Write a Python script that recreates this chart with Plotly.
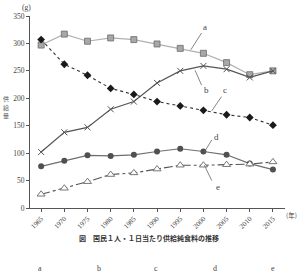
import plotly.graph_objects as go

years = [1965, 1970, 1975, 1980, 1985, 1990, 1995, 2000, 2005, 2010, 2015]
a_vals = [297, 317, 304, 310, 307, 299, 291, 282, 265, 243, 250]
b_vals = [102, 138, 147, 180, 194, 228, 250, 259, 253, 238, 250]
c_vals = [307, 262, 242, 218, 207, 194, 186, 178, 170, 165, 151]
d_vals = [76, 86, 96, 95, 97, 103, 108, 103, 97, 81, 70]
e_vals = [25, 36, 48, 61, 64, 71, 78, 78, 79, 80, 84]
tick_labels = [str(y) for y in years]
y_ticks = [0, 50, 100, 150, 200, 250, 300, 350]
choice_labels = ["a", "b", "c", "d", "e"]
y_title_chars = ["供", "給", "量"]

SERIF = "Liberation Serif, DejaVu Serif, serif"
JP = "Noto Sans CJK JP, sans-serif"

fig = go.Figure()
fig.add_trace(go.Scatter(x=years, y=a_vals, mode="lines+markers",
                         line=dict(color="#b0b0b0", width=1.2),
                         marker=dict(symbol="square", size=6, color="#a8a8a8",
                                     line=dict(color="#6a6a6a", width=0.8))))
fig.add_trace(go.Scatter(x=years, y=b_vals, mode="lines+markers",
                         line=dict(color="#555555", width=1.2),
                         marker=dict(symbol="x-thin", size=6, color="#555555",
                                     line=dict(color="#555555", width=1))))
fig.add_trace(go.Scatter(x=years, y=c_vals, mode="lines+markers",
                         line=dict(color="#333333", width=1.1, dash="dot"),
                         marker=dict(symbol="diamond", size=6, color="#1a1a1a")))
fig.add_trace(go.Scatter(x=years, y=d_vals, mode="lines+markers",
                         line=dict(color="#6e6e6e", width=1.2),
                         marker=dict(symbol="circle", size=6, color="#505050")))
fig.add_trace(go.Scatter(x=years, y=e_vals, mode="lines+markers",
                         line=dict(color="#555555", width=1.1, dash="dashdot"),
                         marker=dict(symbol="triangle-up", size=7, color="white",
                                     line=dict(color="#666666", width=0.9))))

# leader lines for series labels (data coords)
leaders = [
    ((1997.3, 288.6), (1999.6, 319)),   # a
    ((1998.2, 251), (1999.6, 224)),     # b
    ((2001.8, 177), (2003.9, 203)),     # c
    ((2000.2, 102), (2001.8, 124)),     # d
    ((2000.2, 78), (2001.8, 50)),       # e
]
label_pos = [(2000.4, 330), (2000.6, 215), (2004.6, 216), (2002.8, 130), (2003.2, 39)]
for (p0, p1), (lx, ly), t in zip(leaders, label_pos, choice_labels):
    fig.add_shape(type="line", x0=p0[0], y0=p0[1], x1=p1[0], y1=p1[1],
                  xref="x", yref="y", line=dict(color="#666666", width=0.8))
    fig.add_annotation(x=lx, y=ly, xref="x", yref="y", text=t, showarrow=False,
                       xanchor="center", yanchor="middle",
                       font=dict(family=SERIF, size=9, color="#444444"))

fig.update_layout(
    width=300, height=278,
    margin=dict(l=30, r=15, t=16, b=70),
    paper_bgcolor="white", plot_bgcolor="white",
    showlegend=False,
    xaxis=dict(range=[1962.6, 2017.6], tickmode="array", tickvals=years,
               ticktext=tick_labels, tickangle=-45, showgrid=False, zeroline=False,
               showline=True, linecolor="#555555", linewidth=1,
               ticks="outside", ticklen=3, tickcolor="#555555",
               tickfont=dict(family=SERIF, size=7, color="#444444")),
    yaxis=dict(range=[0, 350], tickmode="array", tickvals=y_ticks,
               showgrid=False, zeroline=False,
               showline=True, linecolor="#555555", linewidth=1,
               ticks="outside", ticklen=3, tickcolor="#555555",
               tickfont=dict(family=SERIF, size=7.5, color="#444444")),
)

def px_x(px):
    return (px - 30) / 255

def px_y(py):
    return (208 - py) / 192

fig.add_annotation(xref="paper", yref="paper", x=px_x(26), y=px_y(7),
                   xanchor="center", yanchor="middle",
                   text="(g)", showarrow=False,
                   font=dict(family=SERIF, size=7.5, color="#444444"))
for i, ch in enumerate(y_title_chars):
    fig.add_annotation(xref="paper", yref="paper", x=px_x(6), y=px_y(98 + 9 * i),
                       xanchor="center", yanchor="middle", borderpad=0,
                       text=ch, showarrow=False,
                       font=dict(family=JP, size=6, color="#555555"))
fig.add_annotation(xref="paper", yref="paper", x=px_x(285), xanchor="left",
                   y=px_y(215), yanchor="middle", borderpad=0,
                   text="(年)", showarrow=False,
                   font=dict(family=JP, size=6.5, color="#444444"))
fig.add_annotation(xref="paper", yref="paper", x=px_x(149), y=px_y(238),
                   xanchor="center", yanchor="middle",
                   text="<b>図　国民１人・１日当たり供給純食料の推移</b>", showarrow=False,
                   font=dict(family=JP, size=7, color="#333333"))
for cx, t in zip([40, 99, 156, 215, 273], choice_labels):
    fig.add_annotation(xref="paper", yref="paper", x=px_x(cx), y=px_y(268),
                       xanchor="center", yanchor="middle",
                       text=t, showarrow=False,
                       font=dict(family=SERIF, size=8, color="#444444"))

fig.write_html("out.html")
